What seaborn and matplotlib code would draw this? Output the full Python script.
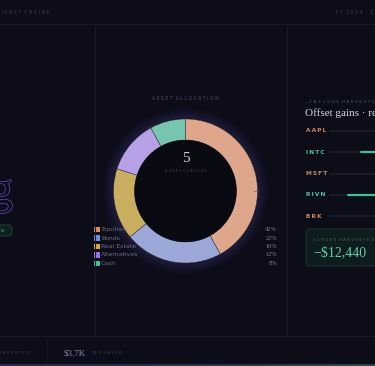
import numpy as np
import matplotlib.pyplot as plt
import matplotlib.patches as mpatches
import matplotlib.patheffects as pe
import pandas as pd
import seaborn as sns

# asset allocation donut
classes = ['Equities', 'Bonds', 'Real Estate', 'Alternatives', 'Cash']
weights = [42, 22, 16, 12, 8]
ring_colors = ['#dea68a', '#9ca9d8', '#c9ae60', '#b6a0e6', '#77c5ae']
key_colors = ['#e08a62', '#6f8fe0', '#d8a83c', '#9b72e2', '#3fc49a']

# tax loss harvest panel
tickers = ['AAPL', 'INTC', 'MSFT', 'RIVN', 'BRK']
ticker_kind = ['gain', 'loss', 'gain', 'loss', 'gain']
loss_share = [0, 48, 0, 70, 0]   # % of half track
harvested = '\u2212$12,440'
reinvested = '$3.7K'

BG = '#0d0d19'
H = 366


def Y(y):
    return H - y


def spaced(s):
    return '  '.join(' '.join(w) for w in s.split(' '))


sns.set_theme(style='dark', rc={'axes.facecolor': BG, 'figure.facecolor': BG})
plt.rcParams['font.family'] = ['DejaVu Sans']
serif = 'Liberation Serif'

fig = plt.figure(figsize=(3.75, 3.66), dpi=100)
ax = fig.add_axes([0, 0, 1, 1])
ax.set_facecolor(BG)

### frame lines of the dashboard
line_c = '#191927'
ax.plot([0, 375], [Y(24), Y(24)], color=line_c, lw=0.8)
ax.plot([0, 375], [Y(335.5), Y(335.5)], color=line_c, lw=0.8)
for x in [95, 287]:
    ax.plot([x, x], [Y(24), Y(335.5)], color=line_c, lw=0.8)
ax.plot([47, 47], [Y(336), Y(366)], color='#141422', lw=0.8)
ax.text(50, Y(12), spaced('TAX EFFICIENCY ENGINE'), ha='right', va='center',
        fontsize=3.3, color='#3b3b52')
ax.text(336, Y(12), spaced('FY 2024 · Q4'), ha='left', va='center',
        fontsize=3.3, color='#3b3b52')

### donut
cx, cy, r_out, ring_w = 185.5, Y(191), 72, 21
for rr, c in [(82, '#111022'), (79, '#15142a'), (76, '#1a1832')]:
    ax.add_patch(mpatches.Circle((cx, cy), rr, color=c, lw=0))
ax.pie(weights, colors=ring_colors, startangle=90, counterclock=False,
       center=(cx, cy), radius=r_out,
       wedgeprops=dict(width=ring_w, edgecolor='#2a2838', linewidth=0.3))
ax.add_patch(mpatches.Circle((cx, cy), r_out - ring_w, color='#0a0a12', lw=0))
ax.plot([r_out + cx - 4, r_out + cx], [cy, cy], color='#6a5a50', lw=0.5)

ax.text(cx, Y(98), spaced('ASSET ALLOCATION'), ha='center', va='center',
        fontsize=3.3, color='#4a4a62')
ax.text(cx, Y(158), str(len(classes)), ha='center', va='center',
        fontsize=11, color='#cfcfdc', family=serif)
ax.text(cx, Y(171), spaced('ASSET CLASSES'), ha='center', va='center',
        fontsize=2.6, color='#404058')

# legend rows
key = pd.DataFrame({'cls': classes, 'w': weights,
                    'x': 97, 'y': [Y(229.5 + 8.5 * i) for i in range(len(classes))]})
sns.scatterplot(data=key, x='x', y='y', hue='cls', palette=key_colors,
                marker='s', s=13, linewidth=0, legend=False, ax=ax)
for _, row in key.iterrows():
    ax.text(101, row['y'], row['cls'], ha='left', va='center',
            fontsize=4.4, color='#6c6c84')
    ax.text(277, row['y'], f"{row['w']}%", ha='right', va='center',
            fontsize=4.6, color='#7a7a90', family=serif)

### left panel remnants
g = ax.text(13, Y(192), 'g', ha='right', va='center', fontsize=33,
            color=BG, family=serif)
g.set_path_effects([pe.withStroke(linewidth=1.0, foreground='#6a4cc4')])
ax.add_patch(mpatches.FancyBboxPatch((-12, Y(236)), 24, 11,
             boxstyle='round,pad=0,rounding_size=4',
             facecolor='#0f201f', edgecolor='#1f4a40', lw=0.6))
ax.text(2, Y(230.5), 'o', ha='center', va='center', fontsize=3.5, color='#3fc49a')

### tax loss harvest panel
ax.text(305, Y(102), '\u2014' + spaced('TAX LOSS HARVESTING'), ha='left',
        va='center', fontsize=3.2, color='#3d5e5a')
ax.text(305, Y(113.5), 'Offset gains \u00b7 reduce tax', ha='left', va='center',
        fontsize=8, color='#d4d4de', family=serif)
track_x0, track_mid = 330, 390
for i, (t, kind, ls) in enumerate(zip(tickers, ticker_kind, loss_share)):
    yy = Y(131 + 21.3 * i)
    col = '#c98a5f' if kind == 'gain' else '#4fc2a0'
    ax.text(306, yy, '\u2009'.join(t), ha='left', va='center', fontsize=4.2,
            fontweight='bold', color=col)
    ax.plot([track_x0, 400], [yy, yy], color='#1f1f2c', lw=1.2,
            solid_capstyle='round')
    if ls:
        ax.plot([track_mid - ls * 0.6, track_mid], [yy, yy], color='#3fbf95',
                lw=1.6, solid_capstyle='round')

ax.add_patch(mpatches.FancyBboxPatch((306, Y(266)), 90, 37,
             boxstyle='round,pad=0,rounding_size=3',
             facecolor='#0f1c1d', edgecolor='#1d3332', lw=0.7))
ax.text(314, Y(240), spaced('LOSSES HARVESTED'), ha='left', va='center',
        fontsize=3.0, color='#3e6660')
ax.text(313, Y(252.5), harvested, ha='left', va='center', fontsize=10,
        color='#5fcfa8', family=serif)

### bottom strip
ax.text(29, Y(353), spaced('REINVESTED'), ha='right', va='center',
        fontsize=3.0, color='#3b3b52')
ax.text(64, Y(353), reinvested, ha='left', va='center', fontsize=6.5,
        color='#8a8aa2', family=serif)
ax.text(90, Y(353.5), spaced('TAX SAVED'), ha='left', va='center',
        fontsize=3.0, color='#3b3b52')
grad = np.linspace(0, 1, 256).reshape(1, -1)
cmap = sns.blend_palette(['#2e2656', '#2a2f4a', '#244a44'], as_cmap=True)
ax.imshow(grad, extent=(0, 375, 0, 1.6), aspect='auto', cmap=cmap, zorder=5)

ax.set_xlim(0, 375)
ax.set_ylim(0, H)
ax.set_axis_off()
fig.savefig('out.png', dpi=100, facecolor=BG)
